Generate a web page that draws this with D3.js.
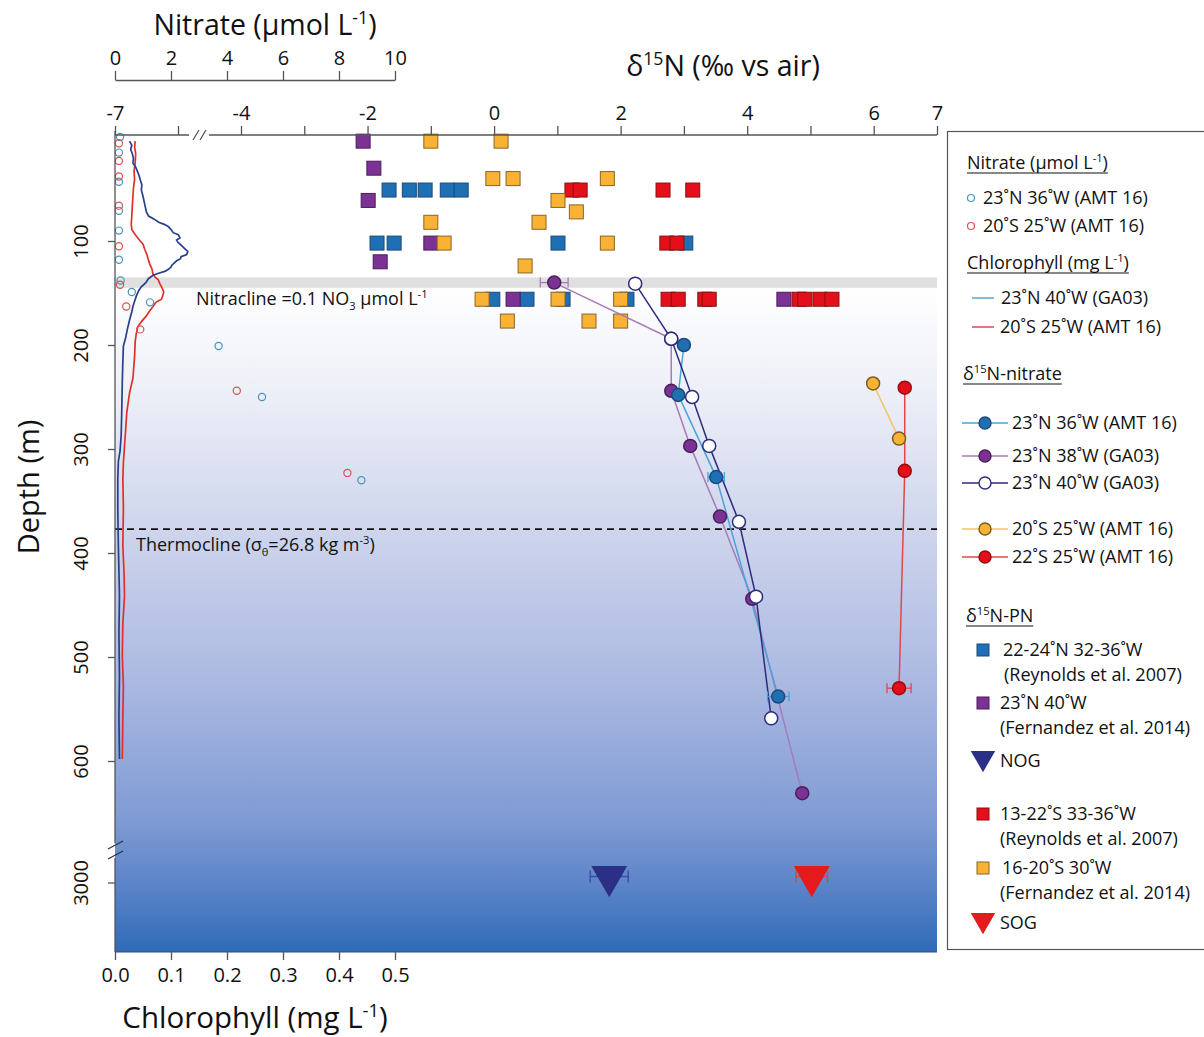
<!DOCTYPE html>
<html>
<head>
<meta charset="utf-8">
<script src="https://cdn.jsdelivr.net/npm/d3@7"></script>
<style>
  body { margin: 0; background: #fff; }
  text { font-family: "Open Sans", sans-serif; fill: #111; }
</style>
</head>
<body>
<svg id="chart" width="1204" height="1037"></svg>
<script>
// ---- data: [depth (m), value] ----
var nitrateNorth = [[0,0.18],[15,0.14],[43,0.14],[71,0.14],[90,0.14],[118,0.14],[138,0.2],[149,0.6],[159,1.25],[201,3.7],[250,5.25],[330,8.8]];
var nitrateSouth = [[6,0.14],[23,0.14],[38,0.14],[66,0.14],[105,0.14],[142,0.18],[163,0.4],[185,0.9],[244,4.35],[323,8.3]];

var chlNorth = [[4,0.026],[8,0.030],[12,0.028],[16,0.031],[21,0.033],[25,0.032],[29,0.037],[33,0.040],[37,0.043],[41,0.045],[46,0.048],[51,0.047],[57,0.050],[62,0.052],[67,0.054],[72,0.056],[76,0.060],[79,0.070],[82,0.078],[84,0.088],[86,0.095],[89,0.100],[92,0.104],[94,0.113],[97,0.116],[99,0.110],[101,0.112],[104,0.118],[107,0.124],[110,0.130],[113,0.128],[115,0.118],[117,0.117],[119,0.110],[121,0.106],[123,0.102],[125,0.100],[127,0.096],[129,0.090],[131,0.078],[133,0.068],[136,0.060],[140,0.055],[144,0.047],[148,0.042],[153,0.038],[158,0.035],[163,0.032],[168,0.030],[176,0.026],[185,0.022],[193,0.019],[201,0.015],[216,0.014],[236,0.013],[265,0.012],[287,0.011],[302,0.009],[312,0.006],[329,0.005],[357,0.005],[393,0.006],[417,0.007],[441,0.008],[478,0.007],[518,0.008],[558,0.007],[598,0.008]];
var chlSouth = [[4,0.036],[10,0.035],[16,0.037],[25,0.036],[33,0.034],[41,0.035],[49,0.033],[57,0.032],[66,0.031],[76,0.030],[84,0.029],[89,0.030],[93,0.035],[96,0.039],[100,0.045],[103,0.050],[108,0.053],[113,0.057],[117,0.059],[122,0.062],[127,0.066],[132,0.068],[135,0.072],[137,0.077],[141,0.080],[145,0.084],[149,0.087],[153,0.085],[156,0.083],[159,0.073],[163,0.068],[167,0.062],[172,0.056],[177,0.048],[182,0.041],[189,0.038],[197,0.036],[211,0.035],[232,0.032],[246,0.026],[265,0.021],[282,0.019],[297,0.017],[313,0.015],[329,0.014],[357,0.015],[393,0.014],[417,0.016],[441,0.017],[468,0.014],[498,0.013],[528,0.015],[558,0.014],[598,0.013]];

// d15N-PN squares: [depth, d15N]
var pnReynoldsN = [[51,-1.66],[51,-1.34],[51,-1.09],[51,-0.74],[51,-0.52],[102,-1.85],[102,-1.58],[102,1.01],[102,3.03],[156,-0.02],[156,0.52],[156,1.09],[156,2.10]];
var pnFernandezN = [[4,-2.07],[30,-1.90],[61,-1.99],[102,-1.0],[120,-1.80],[156,0.30],[156,4.58]];
var pnReynoldsS = [[51,1.23],[51,1.36],[51,2.67],[51,3.14],[102,2.73],[102,2.89],[156,2.75],[156,2.91],[156,3.33],[156,3.40],[156,4.82],[156,4.91],[156,5.15],[156,5.34]];
var pnFernandezS = [[4,-1.0],[4,0.11],[40,-0.02],[40,0.30],[40,1.79],[61,1.01],[72,1.30],[82,-1.0],[82,0.71],[102,-0.79],[102,1.79],[124,0.49],[156,-0.19],[156,1.01],[156,2.0],[177,0.21],[177,1.50],[177,2.0]];

// d15N-nitrate profiles: [depth, d15N, error]
var no3Amt23N = [[200,3.0,0],[248,2.91,0],[327,3.51,0.13],[538,4.49,0.17]];
var no3Ga03_38W = [[140,0.95,0.22],[194,2.80,0],[244,2.80,0],[297,3.10,0],[365,3.57,0],[444,4.08,0],[631,4.87,0]];
var no3Ga03_40W = [[141,2.23,0],[194,2.80,0],[250,3.13,0],[297,3.40,0],[370,3.87,0],[442,4.14,0],[559,4.38,0]];
var no3Amt20S = [[237,5.99,0],[290,6.40,0]];
var no3Amt22S = [[241,6.49,0],[321,6.49,0],[530,6.40,0.19]];

var oceanGyres = [{name:"NOG", depth:3000, d15n:1.82, err:0.3}, {name:"SOG", depth:3000, d15n:5.02, err:0.25}];

var d15nTicks = [-7,-6,-4,-3,-2,-1,0,1,2,3,4,5,6,7];
var d15nLabels = [-7,-4,-2,0,2,4,6,7];
var nitrateTicks = [0,2,4,6,8,10];
var chlTicks = [0,0.1,0.2,0.3,0.4,0.5];
var depthTicks = [100,200,300,400,500,600,3000];

var nitracline = [135,145];
var thermocline = 377;

// ---- colours ----
var c = {
  chlN: "#27408b", chlS: "#e0302a",
  no3N: "#4a93bb", no3S: "#d9534f",
  blue: "#1f6fb4", purple: "#7b3294", red: "#e3101b", orange: "#f9b233",
  navy: "#2c2c7c"
};

// ---- scales ----
var plotL = 115, plotR = 937, plotT = 131, plotB = 952;
var xD = d3.scaleLinear().domain([-7,-6,-4,7]).range([115,178,241,937]);
var xNO3 = d3.scaleLinear().domain([0,10]).range([115,395]);
var xChl = d3.scaleLinear().domain([0,0.5]).range([115,395]);
var y = d3.scaleLinear().domain([0,685,2900,3210]).range([137,849.4,849.4,952]);

var svg = d3.select("#chart");

// text with super/subscripts
function rich(g, parts, x, yy, size, anchor) {
  var t = g.append("text").attr("x", x).attr("y", yy)
    .attr("font-size", size).attr("text-anchor", anchor || "start");
  var back = 0;
  parts.forEach(function(p) {
    var s;
    if (typeof p === "string") {
      s = t.append("tspan").text(p);
      if (back) s.attr("dy", back);
      back = 0;
    } else if (p.sup) {
      s = t.append("tspan").text(p.sup).attr("font-size", size*0.62).attr("dy", back - size*0.38);
      back = size*0.38;
    } else if (p.sub) {
      s = t.append("tspan").text(p.sub).attr("font-size", size*0.62).attr("dy", back + size*0.25);
      back = -size*0.25;
    }
  });
  return t;
}

// ---- background ----
var defs = svg.append("defs");
var grad = defs.append("linearGradient").attr("id", "sea").attr("x1",0).attr("y1",0).attr("x2",0).attr("y2",1);
[[0,"#ffffff"],[0.15,"#eef0f8"],[0.37,"#cdd4ec"],[0.6,"#aab8e1"],[0.8,"#7f9bd4"],[0.9,"#5c84c8"],[1,"#2e6bb7"]].forEach(function(s){
  grad.append("stop").attr("offset", s[0]).attr("stop-color", s[1]);
});
svg.append("rect").attr("x", plotL).attr("y", plotT).attr("width", plotR-plotL).attr("height", plotB-plotT).attr("fill", "#fff");
svg.append("rect").attr("x", plotL).attr("y", y(nitracline[1])).attr("width", plotR-plotL)
  .attr("height", plotB - y(nitracline[1])).attr("fill", "url(#sea)");
svg.append("rect").attr("x", plotL).attr("y", y(nitracline[0])).attr("width", plotR-plotL)
  .attr("height", y(nitracline[1]) - y(nitracline[0])).attr("fill", "#e0e0e0");

// thermocline
svg.append("line").attr("x1", plotL).attr("x2", plotR).attr("y1", y(thermocline)).attr("y2", y(thermocline))
  .attr("stroke", "#111").attr("stroke-width", 1.6).attr("stroke-dasharray", "7,5");

rich(svg, ["Nitracline =0.1 NO", {sub:"3"}, " \u00b5mol L", {sup:"-1"}], 196, 305, 18);
rich(svg, ["Thermocline (\u03c3", {sub:"\u03b8"}, "=26.8 kg m", {sup:"-3"}, ")"], 136, 551, 18);

// ---- chlorophyll profiles ----
var chlLine = d3.line().x(function(d){ return xChl(d[1]); }).y(function(d){ return y(d[0]); });
svg.append("path").datum(chlSouth).attr("d", chlLine).attr("fill", "none").attr("stroke", c.chlS).attr("stroke-width", 1.7);
svg.append("path").datum(chlNorth).attr("d", chlLine).attr("fill", "none").attr("stroke", c.chlN).attr("stroke-width", 1.7);

// ---- nitrate circles ----
[[nitrateNorth, c.no3N], [nitrateSouth, c.no3S]].forEach(function(s) {
  svg.selectAll(null).data(s[0]).enter().append("circle")
    .attr("cx", function(d){ return xNO3(d[1]); })
    .attr("cy", function(d){ return y(d[0]); })
    .attr("r", 3.6).attr("fill", "none").attr("stroke", s[1]).attr("stroke-width", 1.2);
});

// ---- d15N-PN squares ----
var sq = 14;
[[pnReynoldsN, c.blue, "#1d4a78"], [pnFernandezN, c.purple, "#4a1f5a"],
 [pnReynoldsS, c.red, "#8a1010"], [pnFernandezS, c.orange, "#8a6428"]].forEach(function(s) {
  svg.selectAll(null).data(s[0]).enter().append("rect")
    .attr("x", function(d){ return xD(d[1]) - sq/2; })
    .attr("y", function(d){ return y(d[0]) - sq/2; })
    .attr("width", sq).attr("height", sq)
    .attr("fill", s[1]).attr("stroke", s[2]).attr("stroke-width", 1);
});

// ---- d15N-nitrate profiles ----
var profLine = d3.line().x(function(d){ return xD(d[1]); }).y(function(d){ return y(d[0]); });
var profiles = [
  {data: no3Ga03_38W, line: "#a77bb8", fill: c.purple, stroke: "#4a1f5a"},
  {data: no3Amt23N, line: "#4aa3d8", fill: c.blue, stroke: "#1d4a78"},
  {data: no3Ga03_40W, line: c.navy, fill: "#fff", stroke: c.navy},
  {data: no3Amt20S, line: "#f3c36a", fill: c.orange, stroke: "#7a5a20"},
  {data: no3Amt22S, line: "#e04848", fill: c.red, stroke: "#9a0a0a"}
];
profiles.forEach(function(p) {
  svg.append("path").datum(p.data).attr("d", profLine).attr("fill", "none")
    .attr("stroke", p.line).attr("stroke-width", 1.5);
});
profiles.forEach(function(p) {
  var eb = p.data.filter(function(d){ return d[2] > 0; });
  var g = svg.append("g").attr("stroke", p.line).attr("stroke-width", 1.3);
  eb.forEach(function(d) {
    var yy = y(d[0]);
    g.append("line").attr("x1", xD(d[1]-d[2])).attr("x2", xD(d[1]+d[2])).attr("y1", yy).attr("y2", yy);
    g.append("line").attr("x1", xD(d[1]-d[2])).attr("x2", xD(d[1]-d[2])).attr("y1", yy-5).attr("y2", yy+5);
    g.append("line").attr("x1", xD(d[1]+d[2])).attr("x2", xD(d[1]+d[2])).attr("y1", yy-5).attr("y2", yy+5);
  });
  svg.selectAll(null).data(p.data).enter().append("circle")
    .attr("cx", function(d){ return xD(d[1]); })
    .attr("cy", function(d){ return y(d[0]); })
    .attr("r", 6.5).attr("fill", p.fill).attr("stroke", p.stroke).attr("stroke-width", 1.5);
});

// ---- ocean gyre triangles ----
var gyreCol = {NOG: {fill: "#2b2f86", bar: "#3b4ba8"}, SOG: {fill: "#e41a1c", bar: "#d04848"}};
oceanGyres.forEach(function(d) {
  var yy = y(d.depth) - 6;
  var g = svg.append("g").attr("stroke", gyreCol[d.name].bar).attr("stroke-width", 1.4);
  g.append("line").attr("x1", xD(d.d15n-d.err)).attr("x2", xD(d.d15n+d.err)).attr("y1", yy).attr("y2", yy);
  g.append("line").attr("x1", xD(d.d15n-d.err)).attr("x2", xD(d.d15n-d.err)).attr("y1", yy-6).attr("y2", yy+6);
  g.append("line").attr("x1", xD(d.d15n+d.err)).attr("x2", xD(d.d15n+d.err)).attr("y1", yy-6).attr("y2", yy+6);
  svg.append("path").attr("d", d3.symbol(d3.symbolTriangle).size(560)())
    .attr("transform", "translate(" + xD(d.d15n) + "," + yy + ") rotate(180)")
    .attr("fill", gyreCol[d.name].fill);
});

// ---- axes ----
var axisCol = "#555";
// top d15N axis
var topY = 135;
var gD = svg.append("g").attr("transform", "translate(0," + topY + ")")
  .call(d3.axisTop(xD).tickValues(d15nTicks).tickSize(9).tickPadding(6)
    .tickFormat(function(d){ return d15nLabels.indexOf(d) >= 0 ? d : ""; }));
gD.select(".domain").remove();
gD.selectAll(".tick line").attr("stroke", axisCol).attr("stroke-width", 1.3);
gD.selectAll(".tick text").attr("font-size", 20).attr("font-family", "Open Sans, sans-serif").attr("fill", "#111");
svg.append("line").attr("x1", plotL).attr("x2", 189).attr("y1", topY).attr("y2", topY).attr("stroke", axisCol).attr("stroke-width", 1.3);
svg.append("line").attr("x1", 209).attr("x2", plotR).attr("y1", topY).attr("y2", topY).attr("stroke", axisCol).attr("stroke-width", 1.3);
[193, 200].forEach(function(bx) {
  svg.append("line").attr("x1", bx).attr("x2", bx+6).attr("y1", topY+5).attr("y2", topY-5).attr("stroke", axisCol).attr("stroke-width", 1.3);
});

// nitrate axis
var gN = svg.append("g").attr("transform", "translate(0,80)")
  .call(d3.axisTop(xNO3).tickValues(nitrateTicks).tickSize(9).tickPadding(6).tickSizeOuter(0));
gN.select(".domain").attr("stroke", axisCol).attr("stroke-width", 1.3);
gN.selectAll(".tick line").attr("stroke", axisCol).attr("stroke-width", 1.3);
gN.selectAll(".tick text").attr("font-size", 20).attr("font-family", "Open Sans, sans-serif").attr("fill", "#111");

// bottom chlorophyll axis
var gC = svg.append("g").attr("transform", "translate(0," + plotB + ")")
  .call(d3.axisBottom(xChl).tickValues(chlTicks).tickSize(8).tickPadding(8).tickFormat(d3.format(".1f")));
gC.select(".domain").remove();
gC.selectAll(".tick line").attr("stroke", axisCol).attr("stroke-width", 1.3);
gC.selectAll(".tick text").attr("font-size", 20).attr("font-family", "Open Sans, sans-serif").attr("fill", "#111");
svg.append("line").attr("x1", plotL).attr("x2", plotR).attr("y1", plotB).attr("y2", plotB).attr("stroke", "#2b4f8a").attr("stroke-width", 1);

// left depth axis
var gY = svg.append("g").attr("transform", "translate(" + plotL + ",0)")
  .call(d3.axisLeft(y).tickValues(depthTicks).tickSize(7).tickFormat(""));
gY.select(".domain").remove();
gY.selectAll(".tick line").attr("stroke", axisCol).attr("stroke-width", 1.3);
gY.selectAll(".tick").append("text").attr("transform", "translate(-27,0) rotate(-90)")
  .attr("text-anchor", "middle").attr("font-size", 20).attr("fill", "#111")
  .attr("font-family", "Open Sans, sans-serif").text(function(d){ return d; });
svg.append("line").attr("x1", plotL).attr("x2", plotL).attr("y1", plotT).attr("y2", 843).attr("stroke", axisCol).attr("stroke-width", 1.3);
svg.append("line").attr("x1", plotL).attr("x2", plotL).attr("y1", 858).attr("y2", plotB).attr("stroke", axisCol).attr("stroke-width", 1.3);
[845, 855].forEach(function(by) {
  svg.append("line").attr("x1", plotL-7).attr("x2", plotL+8).attr("y1", by+4).attr("y2", by-4).attr("stroke", "#333").attr("stroke-width", 1.3);
});

// axis titles
rich(svg, ["Nitrate (\u00b5mol L", {sup:"-1"}, ")"], 265, 35, 28.5, "middle");
rich(svg, ["\u03b4", {sup:"15"}, "N (\u2030 vs air)"], 723, 76, 28.5, "middle");
rich(svg, ["Chlorophyll (mg L", {sup:"-1"}, ")"], 255, 1028, 29.5, "middle");
svg.append("text").attr("transform", "translate(39,487) rotate(-90)").attr("text-anchor", "middle")
  .attr("font-size", 29).text("Depth (m)");

// ---- legend ----
svg.append("rect").attr("x", 947.5).attr("y", 131.5).attr("width", 262).attr("height", 818)
  .attr("fill", "#fff").attr("stroke", "#555").attr("stroke-width", 1.2);
var lg = svg.append("g");
var fs = 18;
function heading(parts, x, yy) {
  var t = rich(lg, parts, x, yy, fs);
  var bb = t.node().getBBox();
  lg.append("line").attr("x1", x).attr("x2", x + bb.width).attr("y1", yy + 4).attr("y2", yy + 4)
    .attr("stroke", "#111").attr("stroke-width", 1.1);
}
heading(["Nitrate (\u00b5mol L", {sup:"-1"}, ")"], 967, 169);
lg.append("circle").attr("cx", 971).attr("cy", 198).attr("r", 3.5).attr("fill", "none").attr("stroke", c.no3N).attr("stroke-width", 1.2);
rich(lg, ["23\u02daN 36\u02daW (AMT 16)"], 983, 204, fs);
lg.append("circle").attr("cx", 971).attr("cy", 226).attr("r", 3.5).attr("fill", "none").attr("stroke", c.no3S).attr("stroke-width", 1.2);
rich(lg, ["20\u02daS 25\u02daW (AMT 16)"], 983, 232, fs);

heading(["Chlorophyll (mg L", {sup:"-1"}, ")"], 967, 269);
lg.append("line").attr("x1", 972).attr("x2", 994).attr("y1", 298).attr("y2", 298).attr("stroke", "#5aa5cf").attr("stroke-width", 1.5);
rich(lg, ["23\u02daN 40\u02daW (GA03)"], 1001, 304, fs);
lg.append("line").attr("x1", 972).attr("x2", 994).attr("y1", 327).attr("y2", 327).attr("stroke", "#d0504c").attr("stroke-width", 1.5);
rich(lg, ["20\u02daS 25\u02daW (AMT 16)"], 1000, 333, fs);

heading(["\u03b4", {sup:"15"}, "N-nitrate"], 963, 380);
var lgProf = [
  {y: 423, p: profiles[1], label: "23\u02daN 36\u02daW (AMT 16)"},
  {y: 456, p: profiles[0], label: "23\u02daN 38\u02daW (GA03)"},
  {y: 483, p: profiles[2], label: "23\u02daN 40\u02daW (GA03)"},
  {y: 529, p: profiles[3], label: "20\u02daS 25\u02daW (AMT 16)"},
  {y: 557, p: profiles[4], label: "22\u02daS 25\u02daW (AMT 16)"}
];
lgProf.forEach(function(e) {
  lg.append("line").attr("x1", 962).attr("x2", 1008).attr("y1", e.y).attr("y2", e.y).attr("stroke", e.p.line).attr("stroke-width", 1.5);
  lg.append("circle").attr("cx", 985).attr("cy", e.y).attr("r", 6).attr("fill", e.p.fill).attr("stroke", e.p.stroke).attr("stroke-width", 1.4);
  rich(lg, [e.label], 1012, e.y + 6, fs);
});

heading(["\u03b4", {sup:"15"}, "N-PN"], 966, 622);
var lgSq = [
  {y: 650, fill: c.blue, stroke: "#1d4a78", l1: "22-24\u02daN 32-36\u02daW", l2: "(Reynolds et al. 2007)", x1: 1003, x2: 1004},
  {y: 703, fill: c.purple, stroke: "#4a1f5a", l1: "23\u02daN 40\u02daW", l2: "(Fernandez et al. 2014)", x1: 1000, x2: 1000},
  {y: 814, fill: c.red, stroke: "#8a1010", l1: "13-22\u02daS 33-36\u02daW", l2: "(Reynolds et al. 2007)", x1: 1000, x2: 1000},
  {y: 868, fill: c.orange, stroke: "#8a6428", l1: "16-20\u02daS 30\u02daW", l2: "(Fernandez et al. 2014)", x1: 1002, x2: 1000}
];
lgSq.forEach(function(e) {
  lg.append("rect").attr("x", 977).attr("y", e.y - 6).attr("width", 12).attr("height", 12)
    .attr("fill", e.fill).attr("stroke", e.stroke).attr("stroke-width", 1);
  rich(lg, [e.l1], e.x1, e.y + 6, fs);
  rich(lg, [e.l2], e.x2, e.y + 31, fs);
});
[{y: 758, name: "NOG"}, {y: 920, name: "SOG"}].forEach(function(e) {
  lg.append("path").attr("d", d3.symbol(d3.symbolTriangle).size(260)())
    .attr("transform", "translate(983," + e.y + ") rotate(180)").attr("fill", gyreCol[e.name].fill);
  rich(lg, [e.name], 1000, e.y + 9, fs);
});
</script>
</body>
</html>
